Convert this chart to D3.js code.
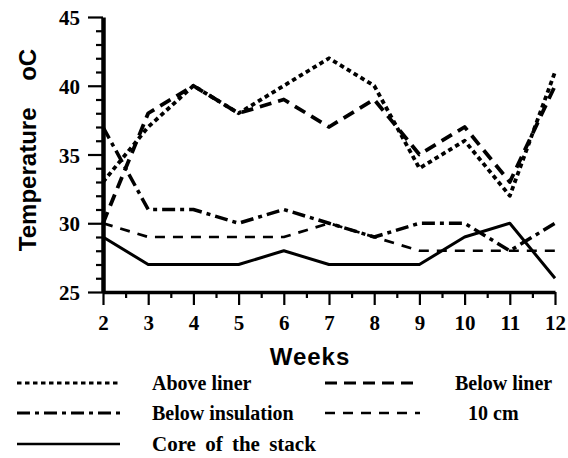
<!DOCTYPE html>
<html>
<head>
<meta charset="utf-8">
<script src="https://cdn.jsdelivr.net/npm/d3@7"></script>
<style>
  html, body { margin: 0; padding: 0; background: #fff; }
  svg { display: block; }
  .tick text { font-family: "Liberation Serif", "Times New Roman", serif; font-weight: bold; font-size: 21px; fill: #000; }
</style>
</head>
<body>
<svg id="chart" width="568" height="458"></svg>
<script>
// Weekly temperatures (°C) measured at five positions in the compost stack
const weeks = [2, 3, 4, 5, 6, 7, 8, 9, 10, 11, 12];
const aboveLiner      = [33, 37, 40, 38, 40, 42, 40, 34, 36, 32, 41];
const belowLiner      = [30, 38, 40, 38, 39, 37, 39, 35, 37, 33, 40];
const belowInsulation = [37, 31, 31, 30, 31, 30, 29, 30, 30, 28, 30];
const tenCm           = [30, 29, 29, 29, 29, 30, 29, 28, 28, 28, 28];
const coreOfStack     = [29, 27, 27, 27, 28, 27, 27, 27, 29, 30, 26];

const yMajorTicks = [25, 30, 35, 40, 45];
const xTickLabels = ["2", "3", "4", "5", "6", "7", "8", "9", "10", "11", "12"];

const seriesNames = ["Above liner", "Below liner", "Below insulation", "10 cm", "Core of the stack"];

// Line styles per series
const styles = [
  { width: 3.8, dash: "4.5,3.5" },            // dotted
  { width: 3.8, dash: "12,7" },               // heavy dashes
  { width: 3.5, dash: "13,5,4,5" },           // dash-dot
  { width: 2.7, dash: "10,8" },               // light dashes
  { width: 3.0, dash: null }                  // solid
];

const svg = d3.select("#chart");

const x = d3.scaleLinear().domain([2, 12]).range([103, 555]);
const y = d3.scaleLinear().domain([25, 45]).range([292, 17]);

// Y axis: major ticks with labels, minor ticks every degree
const yMinor = d3.range(25, 46, 1).filter(v => v % 5 !== 0);
svg.append("g")
  .attr("transform", "translate(103,0)")
  .call(d3.axisLeft(y).tickValues(yMinor).tickSize(7).tickFormat(""))
  .call(g => g.select(".domain").remove())
  .call(g => g.selectAll("line").attr("stroke", "#000").attr("stroke-width", 2.2));

svg.append("g")
  .attr("transform", "translate(103,0)")
  .call(d3.axisLeft(y).tickValues(yMajorTicks).tickSize(15).tickSizeOuter(0).tickPadding(8).tickFormat(d3.format("d")))
  .call(g => g.select(".domain").attr("stroke", "#000").attr("stroke-width", 4.5))
  .call(g => g.selectAll("line").attr("stroke", "#000").attr("stroke-width", 2.2))
  .call(g => g.selectAll("text").attr("dy", "0.36em"));

// X axis: major tick per week, minor tick at half weeks
const xMinor = d3.range(2.5, 12, 1);
svg.append("g")
  .attr("transform", "translate(0,292)")
  .call(d3.axisBottom(x).tickValues(xMinor).tickSize(6).tickFormat(""))
  .call(g => g.select(".domain").remove())
  .call(g => g.selectAll("line").attr("stroke", "#000").attr("stroke-width", 2.2));

svg.append("g")
  .attr("transform", "translate(0,292)")
  .call(d3.axisBottom(x).tickValues(weeks).tickSize(13).tickSizeOuter(0).tickPadding(10)
        .tickFormat((d, i) => xTickLabels[i]))
  .call(g => g.select(".domain").attr("stroke", "#000").attr("stroke-width", 3.4))
  .call(g => g.selectAll("line").attr("stroke", "#000").attr("stroke-width", 2.2));

// Axis titles
svg.append("text")
  .attr("transform", "translate(36,150) rotate(-90)")
  .attr("text-anchor", "middle")
  .attr("font-family", "'Liberation Sans', Arial, sans-serif")
  .attr("font-weight", "bold")
  .attr("font-size", 24)
  .attr("xml:space", "preserve")
  .text("Temperature    oC");

svg.append("text")
  .attr("x", 310)
  .attr("y", 365)
  .attr("text-anchor", "middle")
  .attr("font-family", "'Liberation Sans', Arial, sans-serif")
  .attr("font-weight", "bold")
  .attr("font-size", 24)
  .attr("letter-spacing", 1)
  .text("Weeks");

// Data lines
const allSeries = [aboveLiner, belowLiner, belowInsulation, tenCm, coreOfStack];
const line = d3.line()
  .x((d, i) => x(weeks[i]))
  .y(d => y(d));

// Draw lighter series first so the heavy ones sit on top
const drawOrder = [4, 3, 2, 1, 0];
drawOrder.forEach(k => {
  svg.append("path")
    .datum(allSeries[k])
    .attr("fill", "none")
    .attr("stroke", "#000")
    .attr("stroke-width", styles[k].width)
    .attr("stroke-dasharray", styles[k].dash)
    .attr("stroke-linejoin", "round")
    .attr("d", line);
});

// Legend
const legendItems = [
  { k: 0, x1: 17,  x2: 120, tx: 152, y: 383, size: 20 },
  { k: 1, x1: 325, x2: 420, tx: 455, y: 383, size: 20 },
  { k: 2, x1: 17,  x2: 120, tx: 152, y: 413, size: 20 },
  { k: 3, x1: 325, x2: 420, tx: 468, y: 413, size: 20 },
  { k: 4, x1: 17,  x2: 120, tx: 152, y: 444, size: 21 }
];
const lg = svg.append("g");
legendItems.forEach(it => {
  lg.append("line")
    .attr("x1", it.x1).attr("x2", it.x2)
    .attr("y1", it.y).attr("y2", it.y)
    .attr("stroke", "#000")
    .attr("stroke-width", styles[it.k].width * 0.85)
    .attr("stroke-dasharray", styles[it.k].dash);
  lg.append("text")
    .attr("x", it.tx)
    .attr("y", it.y)
    .attr("dy", "0.33em")
    .attr("font-family", "'Liberation Serif', 'Times New Roman', serif")
    .attr("font-weight", "bold")
    .attr("font-size", it.size)
    .attr("word-spacing", it.k === 4 ? 4 : 0)
    .text(seriesNames[it.k]);
});
</script>
</body>
</html>
